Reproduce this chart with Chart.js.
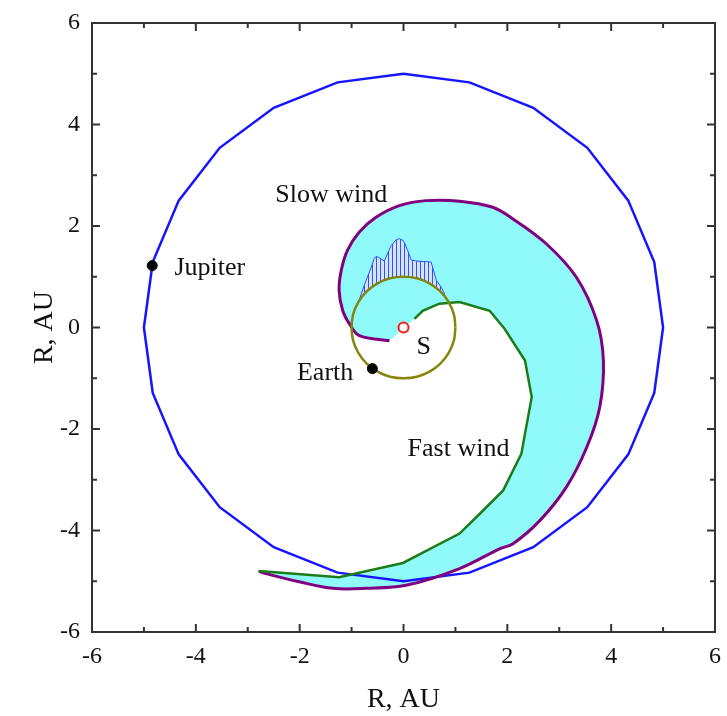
<!DOCTYPE html>
<html>
<head>
<meta charset="utf-8">
<script src="https://cdn.jsdelivr.net/npm/chart.js@4"></script>
<style>
  html, body { margin: 0; padding: 0; background: #fff; }
</style>
</head>
<body>
<canvas id="chart" width="727" height="716"></canvas>
<script>
// axis ticks
const majorTicks = [-6, -4, -2, 0, 2, 4, 6];
const minorTicks = [-5, -3, -1, 1, 3, 5];

// Jupiter orbit (R = 5 AU), polygon as drawn
const jupiterOrbit = [
  [0, 5], [-1.27, 4.83], [-2.5, 4.33], [-3.54, 3.54], [-4.33, 2.5], [-4.83, 1.29],
  [-5, 0], [-4.83, -1.29], [-4.33, -2.5], [-3.54, -3.54], [-2.5, -4.33], [-1.27, -4.83],
  [0, -5], [1.27, -4.83], [2.5, -4.33], [3.54, -3.54], [4.33, -2.5], [4.83, -1.29],
  [5, 0], [4.83, 1.29], [4.33, 2.5], [3.54, 3.54], [2.5, 4.33], [1.27, 4.83], [0, 5]
];

// Earth orbit (R = 1 AU)
const earthOrbit = [
  [1, 0], [0.97, 0.26], [0.87, 0.5], [0.71, 0.71], [0.5, 0.87], [0.26, 0.97],
  [0, 1], [-0.26, 0.97], [-0.5, 0.87], [-0.71, 0.71], [-0.87, 0.5], [-0.97, 0.26],
  [-1, 0], [-0.97, -0.26], [-0.87, -0.5], [-0.71, -0.71], [-0.5, -0.87], [-0.26, -0.97],
  [0, -1], [0.26, -0.97], [0.5, -0.87], [0.71, -0.71], [0.87, -0.5], [0.97, -0.26], [1, 0]
];

// slow wind boundary, from the Sun outwards
const slowWind = [
  [-0.27, -0.26], [-0.85, -0.16], [-1.04, 0.07], [-1.17, 0.33], [-1.24, 0.73],
  [-1.2, 1.12], [-1.08, 1.52], [-0.85, 1.88], [-0.53, 2.17], [-0.08, 2.4],
  [0.44, 2.5], [1.08, 2.49], [1.72, 2.37], [2.11, 2.14], [2.75, 1.65],
  [3.33, 0.99], [3.72, 0.14], [3.85, -0.65], [3.78, -1.57], [3.53, -2.36],
  [3.14, -3.14], [2.63, -3.8], [2.11, -4.26], [1.85, -4.36], [1.08, -4.75],
  [0.05, -5.08], [-0.72, -5.14], [-1.36, -5.14], [-2.01, -5.01], [-2.65, -4.85],
  [-2.79, -4.8]
];

// fast wind boundary, from the outer tip back to the Sun
const fastWind = [
  [-2.79, -4.8], [-1.24, -4.92], [-0.01, -4.64], [1.08, -4.06], [1.47, -3.67],
  [1.92, -3.21], [2.27, -2.49], [2.47, -1.37], [2.34, -0.65], [1.95, -0.03],
  [1.66, 0.33], [1.08, 0.5], [0.69, 0.47], [0.37, 0.33], [0.21, 0.17]
];

// hatched bump above the Earth orbit
const bumpTop = [
  [-0.88, 0.47], [-0.72, 0.93], [-0.62, 1.19], [-0.56, 1.37], [-0.51, 1.4],
  [-0.37, 1.31], [-0.24, 1.61], [-0.14, 1.73], [-0.08, 1.75], [0, 1.71],
  [0.08, 1.52], [0.15, 1.33], [0.24, 1.31], [0.53, 1.29], [0.58, 1.12],
  [0.63, 0.93], [0.73, 0.79], [0.79, 0.66]
];
const bumpBase = [
  [0.79, 0.62], [0.6, 0.8], [0.4, 0.92], [0.2, 0.98], [0, 1], [-0.2, 0.98],
  [-0.4, 0.92], [-0.6, 0.8], [-0.8, 0.6], [-0.88, 0.47]
];

// bodies
const jupiterPos = [[-4.84, 1.22]];
const earthPos = [[-0.6, -0.81]];
const sunPos = [[0, 0]];

// text labels (data coordinates of the text centre)
const labels = [
  { text: 'Slow wind', x: -1.39, y: 2.6 },
  { text: 'Jupiter', x: -3.73, y: 1.16 },
  { text: 'Earth', x: -1.51, y: -0.9 },
  { text: 'S', x: 0.39, y: -0.39 },
  { text: 'Fast wind', x: 1.06, y: -2.4 }
];

const toXY = arr => arr.map(p => ({ x: p[0], y: p[1] }));
const SERIF = '"Liberation Serif", "Times New Roman", serif';

const ctx = document.getElementById('chart').getContext('2d');

// vertical hatch pattern
const pc = document.createElement('canvas');
pc.width = 4; pc.height = 4;
const pctx = pc.getContext('2d');
pctx.fillStyle = '#d6e2ff';
pctx.fillRect(0, 0, 4, 4);
pctx.fillStyle = '#2b55ff';
pctx.fillRect(0, 0, 1, 4);
const hatch = ctx.createPattern(pc, 'repeat');

const framePlugin = {
  id: 'frame',
  afterDatasetsDraw(chart) {
    const { ctx, chartArea: a, scales: { x, y } } = chart;
    ctx.save();
    ctx.strokeStyle = '#333';
    ctx.lineWidth = 2;
    ctx.strokeRect(a.left, a.top, a.right - a.left, a.bottom - a.top);
    const drawTicks = (vals, len) => {
      vals.forEach(v => {
        const px = x.getPixelForValue(v);
        const py = y.getPixelForValue(v);
        ctx.beginPath();
        ctx.moveTo(px, a.bottom); ctx.lineTo(px, a.bottom - len);
        ctx.moveTo(px, a.top); ctx.lineTo(px, a.top + len);
        ctx.moveTo(a.left, py); ctx.lineTo(a.left + len, py);
        ctx.moveTo(a.right, py); ctx.lineTo(a.right - len, py);
        ctx.stroke();
      });
    };
    drawTicks(majorTicks, 8);
    drawTicks(minorTicks, 5);

    ctx.fillStyle = '#111';
    ctx.font = '26px ' + SERIF;
    ctx.textAlign = 'center';
    ctx.textBaseline = 'middle';
    labels.forEach(l => {
      ctx.fillText(l.text, x.getPixelForValue(l.x), y.getPixelForValue(l.y));
    });
    ctx.restore();
  }
};

// let layout padding alone decide where the plot frame sits
const noEdgePadding = s => {
  s.paddingTop = 0; s.paddingBottom = 0; s.paddingLeft = 0; s.paddingRight = 0;
};

new Chart(ctx, {
  type: 'line',
  data: {
    datasets: [
      {
        data: toXY(slowWind.concat(fastWind.slice(1))),
        borderWidth: 0,
        borderColor: 'rgba(0,0,0,0)',
        backgroundColor: '#90fafa',
        fill: 'shape',
        tension: 0.25,
        pointRadius: 0,
        order: 10
      },
      {
        data: toXY(bumpTop.concat(bumpBase)),
        borderWidth: 1,
        borderColor: '#2b55ff',
        backgroundColor: hatch,
        fill: 'shape',
        pointRadius: 0,
        order: 9
      },
      {
        data: toXY(jupiterOrbit),
        borderColor: '#1515ff',
        borderWidth: 2.5,
        pointRadius: 0,
        order: 8
      },
      {
        data: toXY(slowWind),
        borderColor: '#800080',
        borderWidth: 3,
        tension: 0.35,
        pointRadius: 0,
        order: 7
      },
      {
        data: toXY(fastWind),
        borderColor: '#1a7d1a',
        borderWidth: 2.5,
        pointRadius: 0,
        order: 6
      },
      {
        data: toXY(earthOrbit),
        borderColor: '#86860f',
        borderWidth: 2.5,
        pointRadius: 0,
        tension: 0.4,
        order: 5
      },
      {
        data: toXY(jupiterPos.concat(earthPos)),
        showLine: false,
        pointRadius: 5,
        pointBackgroundColor: '#000',
        pointBorderColor: '#000',
        order: 2
      },
      {
        data: toXY(sunPos),
        showLine: false,
        pointRadius: 5,
        pointBorderWidth: 2,
        pointBackgroundColor: '#fff',
        pointBorderColor: '#ff1a1a',
        order: 1
      }
    ]
  },
  options: {
    responsive: false,
    animation: false,
    layout: { padding: { left: 24, right: 12, top: 23, bottom: 0 } },
    plugins: { legend: { display: false }, tooltip: { enabled: false } },
    scales: {
      x: {
        type: 'linear',
        min: -6, max: 6,
        grid: { display: false, drawTicks: false },
        border: { display: false },
        ticks: { stepSize: 2, padding: 10, color: '#111', font: { family: SERIF, size: 24 } },
        title: { display: true, text: 'R, AU', color: '#111', font: { family: SERIF, size: 28 }, padding: { top: 4, bottom: 0 } },
        afterFit: s => { s.height = 84; noEdgePadding(s); }
      },
      y: {
        type: 'linear',
        min: -6, max: 6,
        grid: { display: false, drawTicks: false },
        border: { display: false },
        ticks: { stepSize: 2, padding: 12, color: '#111', font: { family: SERIF, size: 24 } },
        title: { display: true, text: 'R, AU', color: '#111', font: { family: SERIF, size: 28 }, padding: 4 },
        afterFit: s => { s.width = 68; noEdgePadding(s); }
      }
    }
  },
  plugins: [framePlugin]
});
</script>
</body>
</html>
